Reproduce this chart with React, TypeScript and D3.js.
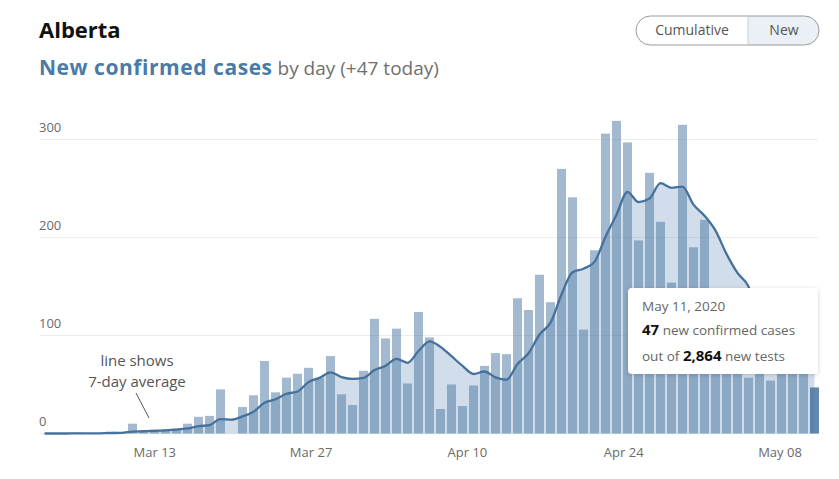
import React from "react";
import * as d3 from "d3";

// New confirmed cases by day, Alberta (Mar 2 – May 11, 2020)
const firstDay = new Date(2020, 2, 2);
const lastDay = new Date(2020, 4, 11);

const marchCases = [
  0, 0, 0, 1, 0, 0, 2, 1, 10, 2, 4, 4, 5, 10, 17, 18, 45, 0, 27, 39, 74, 42, 57, 61, 67, 57, 79, 40, 29, 64,
];
const aprilCases = [
  117, 97, 107, 51, 124, 98, 25, 50, 28, 49, 69, 82, 81, 138, 126, 162, 134, 270, 241, 106, 187, 306, 319, 297, 197,
  266, 216, 154, 315, 190,
];
const mayCases = [218, 90, 100, 80, 57, 70, 54, 73, 64, 65, 47];

const yTicks = [0, 100, 200, 300];
const xTickDates = [
  new Date(2020, 2, 13),
  new Date(2020, 2, 27),
  new Date(2020, 3, 10),
  new Date(2020, 3, 24),
  new Date(2020, 4, 8),
];
const xTickLabels = ["Mar 13", "Mar 27", "Apr 10", "Apr 24", "May 08"];

const FONT = "'Open Sans', Lato, sans-serif";

export default function App() {
  const dates = d3.timeDay.range(firstDay, d3.timeDay.offset(lastDay, 1));
  const cases = [...marchCases, ...aprilCases, ...mayCases];
  const data = dates.map((d, i) => ({
    date: d,
    i,
    value: cases[i],
    avg: d3.sum(cases.slice(Math.max(0, i - 6), i + 1)) / 7,
  }));

  const xb = d3
    .scaleBand<number>()
    .domain(data.map((d) => d.i))
    .range([39, 820])
    .paddingInner(0.18)
    .paddingOuter(0.09);
  const bw = xb.bandwidth();
  const y = d3.scaleLinear().domain([0, 300]).range([433.5, 139.5]);
  const xt = d3.scaleTime().domain([firstDay, lastDay]).range([32, 813.5]);

  const cx = (d: any) => (xb(d.i) as number) + bw / 2;
  const area = d3
    .area<any>()
    .x(cx)
    .y0(y(0))
    .y1((d) => y(d.avg))
    .curve(d3.curveMonotoneX);
  const line = d3
    .line<any>()
    .x(cx)
    .y((d) => y(d.avg))
    .curve(d3.curveMonotoneX);

  const last = data[data.length - 1];

  return (
    <svg
      width={839}
      height={479}
      style={{ position: "absolute", left: 0, top: 0, background: "#fff" }}
      fontFamily={FONT}
    >
      <defs>
        <filter id="shadow" x="-20%" y="-20%" width="140%" height="150%">
          <feDropShadow dx="0" dy="1" stdDeviation="2" floodColor="#000" floodOpacity="0.18" />
        </filter>
        <clipPath id="btnclip">
          <rect x={636} y={16} width={183} height={29} rx={14.5} />
        </clipPath>
      </defs>

      {/* header */}
      <text x={39} y={38} fontSize={22} fontWeight={700} fill="#111">
        Alberta
      </text>
      <text x={39} y={75} fontSize={19} fill="#6f6f6f">
        <tspan fontWeight={700} fill="#4a7ba6" fontSize={21} letterSpacing={0.55}>
          New confirmed cases
        </tspan>
        <tspan> by day (+47 today)</tspan>
      </text>

      {/* toggle */}
      <g>
        <rect x={748} y={16} width={71} height={29} fill="#eaf0f6" clipPath="url(#btnclip)" />
        <rect x={636} y={16} width={183} height={29} rx={14.5} fill="none" stroke="#9a9a9a" strokeWidth={1} />
        <line x1={748} x2={748} y1={16} y2={45} stroke="#c8ccd0" />
        <text x={692} y={35} textAnchor="middle" fontSize={14} fill="#555">
          Cumulative
        </text>
        <text x={784} y={35} textAnchor="middle" fontSize={14} fill="#555">
          New
        </text>
      </g>

      {/* grid */}
      {yTicks.map((t) => (
        <g key={t}>
          <line x1={40} x2={818} y1={y(t)} y2={y(t)} stroke="#ececec" strokeWidth={1} />
          <text x={39} y={y(t) - 8} fontSize={13} fill="#6a6a6a">
            {t}
          </text>
        </g>
      ))}

      {/* area under average */}
      <path d={area(data) as string} fill="#4678aa" fillOpacity={0.25} />

      {/* bars */}
      {data.map((d) => (
        <rect
          key={d.i}
          x={xb(d.i)}
          y={y(d.value)}
          width={bw}
          height={y(0) - y(d.value)}
          fill="#46739f"
          fillOpacity={d.i === last.i ? 0.85 : 0.5}
        />
      ))}

      {/* average line */}
      <path d={line(data) as string} fill="none" stroke="#46719c" strokeWidth={2.3} strokeLinejoin="round" />

      {/* x axis labels */}
      {xTickDates.map((d, k) => (
        <text key={k} x={xt(d)} y={457} textAnchor="middle" fontSize={13} fill="#6a6a6a">
          {xTickLabels[k]}
        </text>
      ))}

      {/* annotation */}
      <text x={137} y={366} textAnchor="middle" fontSize={15} fill="#555">
        line shows
      </text>
      <text x={137} y={387} textAnchor="middle" fontSize={15} fill="#555">
        7-day average
      </text>
      <line x1={136} y1={393} x2={149} y2={418} stroke="#555" strokeWidth={1} />

      {/* tooltip */}
      <g>
        <rect x={628} y={288} width={190} height={86} rx={4} fill="#fff" filter="url(#shadow)" />
        <text x={642} y={311} fontSize={13.5} fill="#666">
          May 11, 2020
        </text>
        <text x={642} y={335} fontSize={13.5} fill="#666">
          <tspan fontWeight={700} fill="#111" fontSize={15}>
            {last.value}
          </tspan>
          <tspan> new confirmed cases</tspan>
        </text>
        <text x={642} y={361} fontSize={13.5} fill="#666">
          <tspan>out of </tspan>
          <tspan fontWeight={700} fill="#111" fontSize={15}>
            2,864
          </tspan>
          <tspan> new tests</tspan>
        </text>
      </g>
    </svg>
  );
}
